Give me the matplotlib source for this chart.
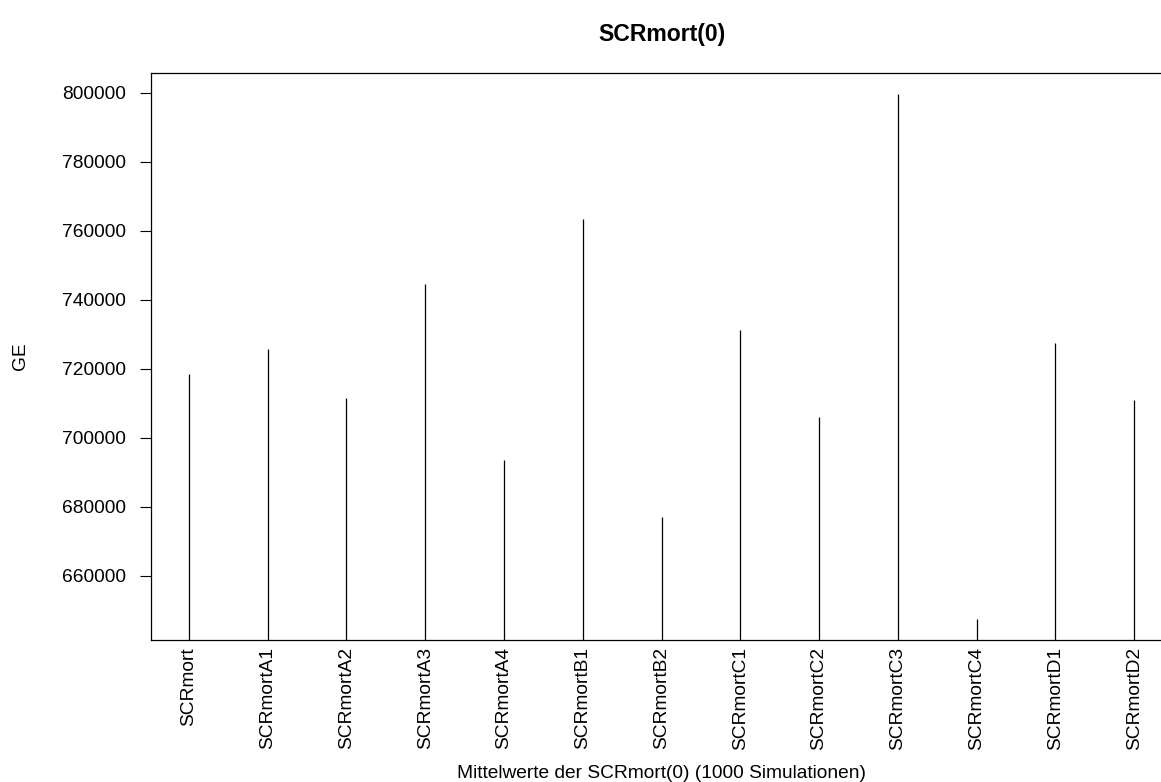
import numpy as np
import matplotlib
matplotlib.use('Agg')
import matplotlib.pyplot as plt

# mean SCRmort(0) per scenario, 1000 simulation runs each
scenarios = ['SCRmort', 'SCRmortA1', 'SCRmortA2', 'SCRmortA3', 'SCRmortA4',
             'SCRmortB1', 'SCRmortB2', 'SCRmortC1', 'SCRmortC2', 'SCRmortC3',
             'SCRmortC4', 'SCRmortD1', 'SCRmortD2']
means = [718560, 725770, 711460, 744620, 693480,
         763580, 676910, 731340, 705970, 799700,
         647390, 727330, 710880]
yticks = [660000, 680000, 700000, 720000, 740000, 760000, 780000, 800000]

plt.rcParams['font.family'] = ['Liberation Sans', 'DejaVu Sans']

fig = plt.figure(figsize=(11.61, 7.82), dpi=100)
# plot region runs a bit past the right edge of the canvas
ax = fig.add_axes([151/1161, 142/782, 1021/1161, 567/782])

pos = np.arange(1, len(scenarios) + 1)
# histogram-like spikes from zero, clipped at the axis
ax.vlines(pos, 0, means, colors='black', linewidth=0.9)

# 4% padding on both axes
lo, hi = min(means), max(means)
pad = 0.04 * (hi - lo)
ax.set_ylim(lo - pad, hi + pad)
xpad = 0.04 * (pos[-1] - pos[0])
ax.set_xlim(pos[0] - xpad, pos[-1] + xpad)

ax.set_yticks(yticks)
ax.set_yticklabels([str(v) for v in yticks])
ax.set_xticks(pos)
ax.set_xticklabels(scenarios, rotation=90)

ax.tick_params(axis='y', length=8, width=0.8, pad=10, labelsize=13.8)
ax.tick_params(axis='x', length=0, pad=5, labelsize=13.8)
for sp in ax.spines.values():
    sp.set_linewidth(0.9)

ax.set_xlabel('Mittelwerte der SCRmort(0) (1000 Simulationen)', fontsize=13.8, va='center')
ax.xaxis.set_label_coords(0.5, (640 - 773) / 567)
ax.set_ylabel('GE', fontsize=13.8, va='center')
ax.yaxis.set_label_coords((20 - 151) / 1021, 0.5)

ax.set_title('SCRmort(0)', fontsize=16.6, fontweight='bold', pad=23)

fig.savefig('out.png', dpi=100)
